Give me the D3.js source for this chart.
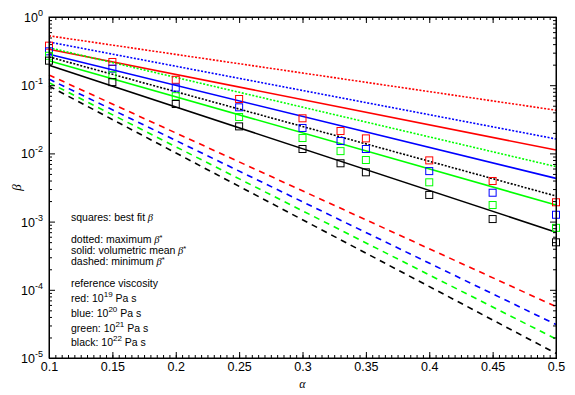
<!DOCTYPE html>
<html>
<head>
<meta charset="utf-8">
<script src="https://cdn.jsdelivr.net/npm/d3@7"></script>
<style>
  body { margin: 0; background: #fff; }
  svg text { font-family: "Liberation Sans", Arial, sans-serif; }
</style>
</head>
<body>
<div id="chart"></div>
<script>
// alpha values where best fit beta was computed
const alphaFit = [0.1, 0.15, 0.2, 0.25, 0.3, 0.33, 0.35, 0.4, 0.45, 0.5];
const fitRed   = [0.38, 0.219, 0.12, 0.0628, 0.0327, 0.0213, 0.0166, 0.0079, 0.00394, 0.00192];
const fitBlue  = [0.314, 0.175, 0.092, 0.0474, 0.0236, 0.0152, 0.0116, 0.0055, 0.00265, 0.00126];
const fitGreen = [0.27, 0.14, 0.069, 0.0342, 0.0168, 0.0108, 0.008, 0.00377, 0.00175, 0.00081];
const fitBlack = [0.229, 0.111, 0.053, 0.0249, 0.0116, 0.00716, 0.00528, 0.00246, 0.00109, 0.000497];

// lines: values at alpha = 0.1 and 0.5
const alphaEnds = [0.1, 0.5];
const maxRed = [0.53, 0.043];
const maxBlue = [0.43, 0.0163];
const maxGreen = [0.355, 0.0064];
const maxBlack = [0.26, 0.00237];
const meanRed = [0.336, 0.0112];
const meanBlue = [0.284, 0.0043];
const meanGreen = [0.229, 0.00175];
const meanBlack = [0.196, 0.0007];
const minRed = [0.141, 5.66e-5];
const minBlue = [0.123, 3.1e-5];
const minGreen = [0.109, 1.9e-5];
const minBlack = [0.097, 1.17e-5];

const xTicks = [0.1, 0.15, 0.2, 0.25, 0.3, 0.35, 0.4, 0.45, 0.5];
const yExps = [0, -1, -2, -3, -4, -5];

const width = 575;
const height = 395;
const mLeft = 49, mRight = 556, mTop = 17, mBottom = 358;

const svg = d3.select("#chart")
  .append("svg")
  .attr("width", width)
  .attr("height", height);

const x = d3.scaleLinear().domain([0.1, 0.5]).range([mLeft, mRight]);
const y = d3.scaleLog().domain([1e-5, 1]).range([mBottom, mTop]);

const groups = [
  { color: "#ff0000", fit: fitRed, max: maxRed, mean: meanRed, min: minRed },
  { color: "#0000ff", fit: fitBlue, max: maxBlue, mean: meanBlue, min: minBlue },
  { color: "#00ff00", fit: fitGreen, max: maxGreen, mean: meanGreen, min: minGreen },
  { color: "#000000", fit: fitBlack, max: maxBlack, mean: meanBlack, min: minBlack }
];

const line = d3.line()
  .x(d => x(d[0]))
  .y(d => y(d[1]));

const plot = svg.append("g");

// lines (dotted = max, solid = mean, dashed = min)
groups.forEach(g => {
  [["max", "2,1.6"], ["mean", null], ["min", "6,5"]].forEach(([k, dash]) => {
    plot.append("path")
      .datum(alphaEnds.map((a, i) => [a, g[k][i]]))
      .attr("d", line)
      .attr("fill", "none")
      .attr("stroke", g.color)
      .attr("stroke-width", 1.6)
      .attr("stroke-dasharray", dash);
  });
});

// best fit squares
const sq = 7;
groups.forEach(g => {
  plot.selectAll(null)
    .data(alphaFit.map((a, i) => [a, g.fit[i]]))
    .enter()
    .append("rect")
    .attr("x", d => x(d[0]) - sq / 2)
    .attr("y", d => y(d[1]) - sq / 2)
    .attr("width", sq)
    .attr("height", sq)
    .attr("fill", "none")
    .attr("stroke", g.color)
    .attr("stroke-width", 1);
});

// axes, ticks pointing inward on all sides
const xMinor = d3.range(0.1, 0.5001, 0.005);
const yMinor = [];
for (let e = -5; e < 0; e++) {
  for (let m = 2; m < 10; m++) yMinor.push(m * Math.pow(10, e));
}

svg.append("g")
  .attr("transform", `translate(0,${mBottom})`)
  .call(d3.axisBottom(x).tickValues(xMinor).tickSize(-3).tickFormat(""));
svg.append("g")
  .attr("transform", `translate(0,${mBottom})`)
  .call(d3.axisBottom(x).tickValues(xTicks).tickSize(-6).tickPadding(4)
    .tickFormat(d3.format("~g")));
svg.append("g")
  .attr("transform", `translate(0,${mTop})`)
  .call(d3.axisTop(x).tickValues(xMinor).tickSize(-3).tickFormat(""));
svg.append("g")
  .attr("transform", `translate(0,${mTop})`)
  .call(d3.axisTop(x).tickValues(xTicks).tickSize(-6).tickFormat(""));

svg.append("g")
  .attr("transform", `translate(${mLeft},0)`)
  .call(d3.axisLeft(y).tickValues(yMinor).tickSize(-3).tickFormat(""));
svg.append("g")
  .attr("transform", `translate(${mLeft},0)`)
  .call(d3.axisLeft(y).tickValues(yExps.map(e => Math.pow(10, e))).tickSize(-6).tickFormat(""));
svg.append("g")
  .attr("transform", `translate(${mRight},0)`)
  .call(d3.axisRight(y).tickValues(yMinor).tickSize(-3).tickFormat(""));
svg.append("g")
  .attr("transform", `translate(${mRight},0)`)
  .call(d3.axisRight(y).tickValues(yExps.map(e => Math.pow(10, e))).tickSize(-6).tickFormat(""));

svg.selectAll(".domain").attr("stroke", "#000");
svg.selectAll(".tick line").attr("stroke", "#000");
svg.selectAll(".tick text")
  .attr("font-size", "12.5px")
  .attr("fill", "#000")
  .style("font-family", "'Liberation Sans', Arial, sans-serif");

// y tick labels 10^n
const yLab = svg.append("g");
yExps.forEach(e => {
  const t = yLab.append("text")
    .attr("x", mLeft - 6)
    .attr("y", y(Math.pow(10, e)) + 5)
    .attr("text-anchor", "end")
    .attr("font-size", "12.5px");
  t.append("tspan").text("10");
  t.append("tspan").attr("dy", -6).attr("font-size", "9px").text(e === 0 ? "0" : "-" + Math.abs(e));
});

// frame
svg.append("rect")
  .attr("x", mLeft).attr("y", mTop)
  .attr("width", mRight - mLeft).attr("height", mBottom - mTop)
  .attr("fill", "none").attr("stroke", "#000").attr("stroke-width", 1);

// axis titles
svg.append("text")
  .attr("x", (mLeft + mRight) / 2)
  .attr("y", 388)
  .attr("text-anchor", "middle")
  .attr("font-size", "12px")
  .style("font-family", "'Liberation Serif', serif")
  .style("font-style", "italic")
  .text("α");

svg.append("text")
  .attr("transform", `translate(21,${(mTop + mBottom) / 2}) rotate(-90)`)
  .attr("text-anchor", "middle")
  .attr("font-size", "13px")
  .style("font-family", "'Liberation Serif', serif")
  .style("font-style", "italic")
  .text("β");

// legend notes
const notes = svg.append("g").attr("font-size", "10.5px");

function greek(t, star) {
  t.append("tspan")
    .style("font-family", "'Liberation Serif', serif")
    .style("font-style", "italic")
    .text(" β");
  if (star) t.append("tspan").attr("dy", -3).attr("font-size", "7.5px").text("*");
}

greek(notes.append("text").attr("x", 71).attr("y", 221).text("squares: best fit"), false);
greek(notes.append("text").attr("x", 71).attr("y", 243).text("dotted: maximum"), true);
greek(notes.append("text").attr("x", 71).attr("y", 254).text("solid: volumetric mean"), true);
greek(notes.append("text").attr("x", 71).attr("y", 265).text("dashed: minimum"), true);

notes.append("text").attr("x", 71).attr("y", 287).text("reference viscosity");

const visc = [["red", 19], ["blue", 20], ["green", 21], ["black", 22]];
visc.forEach((v, i) => {
  const t = notes.append("text").attr("x", 71).attr("y", 302 + i * 14.8);
  t.append("tspan").text(v[0] + ": 10");
  t.append("tspan").attr("dy", -5).attr("font-size", "8px").text(v[1]);
  t.append("tspan").attr("dy", 5).text(" Pa s");
});
</script>
</body>
</html>
